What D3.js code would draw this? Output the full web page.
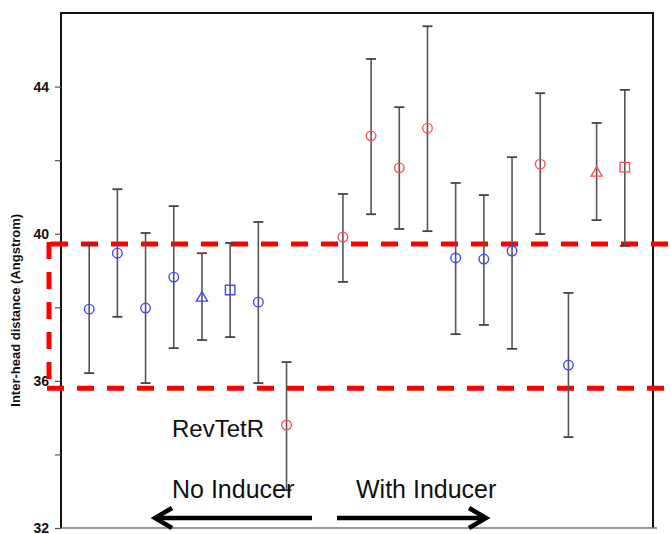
<!DOCTYPE html>
<html>
<head>
<meta charset="utf-8">
<script src="https://cdn.jsdelivr.net/npm/d3@7"></script>
<style>
  html, body { margin: 0; padding: 0; background: #fff; }
  svg { display: block; font-family: "Liberation Sans", Arial, sans-serif; }
</style>
</head>
<body>
<div id="chart"></div>
<script>
// slot of each measurement along x (slot 9 is left empty)
const positions = [1, 2, 3, 4, 5, 6, 7, 8, 10, 11, 12, 13, 14, 15, 16, 17, 18, 19, 20];
const means = [37.95, 39.47, 37.98, 38.82, 38.28, 38.47, 38.14, 34.80, 39.91, 42.66, 41.79, 42.87, 39.34, 39.31, 39.53, 41.89, 36.43, 41.68, 41.81];
const upper = [39.69, 41.21, 40.02, 40.75, 39.47, 39.75, 40.32, 36.51, 41.08, 44.75, 43.44, 45.64, 41.38, 41.05, 42.08, 43.82, 38.39, 43.01, 43.91];
const lower = [36.21, 37.74, 35.94, 36.89, 37.11, 37.19, 35.94, 33.03, 38.69, 40.53, 40.13, 40.07, 37.27, 37.52, 36.87, 39.99, 34.47, 40.37, 39.67];
const groups = ['b', 'b', 'b', 'b', 'b', 'b', 'b', 'r', 'r', 'r', 'r', 'r', 'b', 'b', 'b', 'r', 'b', 'r', 'r'];
const shapes = ['c', 'c', 'c', 'c', 't', 's', 'c', 'c', 'c', 'c', 'c', 'c', 'c', 'c', 'c', 'c', 'c', 't', 's'];
const bandLimits = [35.8, 39.72];
const tickValues = [32, 34, 36, 38, 40, 42, 44];
const tickLabels = ['32', '', '36', '', '40', '', '44'];

const width = 671, height = 534;
const plot = { left: 61, right: 653, top: 13, bottom: 528 };

const svg = d3.select('#chart').append('svg')
  .attr('width', width)
  .attr('height', height);

const x = d3.scaleLinear().domain([0, 21]).range([plot.left, plot.right]);
const y = d3.scaleLinear().domain([32, 46]).range([plot.bottom, plot.top]);

const colorOf = { b: '#4646ff', r: '#ff5050' };

const data = positions.map((p, i) => ({
  pos: p, mean: means[i], hi: upper[i], lo: lower[i], group: groups[i], shape: shapes[i]
}));

// frame: black top/left/right, grey bottom
svg.append('path')
  .attr('d', `M${plot.left},${plot.bottom} V${plot.top} H${plot.right} V${plot.bottom}`)
  .attr('fill', 'none')
  .attr('stroke', '#111')
  .attr('stroke-width', 2);
svg.append('line')
  .attr('x1', plot.left).attr('x2', plot.right + 4)
  .attr('y1', plot.bottom).attr('y2', plot.bottom)
  .attr('stroke', '#777')
  .attr('stroke-width', 1.5);

// y axis
const yAxis = d3.axisLeft(y)
  .tickValues(tickValues)
  .tickSize(6)
  .tickPadding(6)
  .tickFormat((d, i) => tickLabels[i]);

const gy = svg.append('g')
  .attr('transform', `translate(${plot.left},0)`)
  .call(yAxis);
gy.select('.domain').remove();
gy.selectAll('.tick line').attr('stroke', '#555').attr('stroke-width', 1.2);
gy.selectAll('.tick text')
  .attr('fill', '#111')
  .attr('font-size', 14)
  .attr('font-weight', 'bold')
  .attr('font-family', '"Liberation Sans", Arial, sans-serif');

svg.append('text')
  .attr('transform', `translate(20,${(y(36) + y(40)) / 2 + 3}) rotate(-90)`)
  .attr('text-anchor', 'middle')
  .attr('font-size', 13)
  .attr('font-weight', 'bold')
  .attr('fill', '#111')
  .text('Inter-head distance (Angstrom)');

// red dashed band
const dashStyle = sel => sel
  .attr('stroke', '#ff0000')
  .attr('stroke-width', 5)
  .attr('stroke-dasharray', '17,13')
  .attr('fill', 'none');

svg.append('line')
  .attr('x1', 51).attr('x2', width)
  .attr('y1', y(bandLimits[1])).attr('y2', y(bandLimits[1]))
  .call(dashStyle);
svg.append('line')
  .attr('x1', 49).attr('x2', 49)
  .attr('y1', y(bandLimits[1]) - 2).attr('y2', y(bandLimits[0]) + 2)
  .call(dashStyle);
svg.append('line')
  .attr('x1', 47).attr('x2', width)
  .attr('y1', y(bandLimits[0])).attr('y2', y(bandLimits[0]))
  .call(dashStyle);

// error bars
const bars = svg.append('g').attr('class', 'errbars')
  .selectAll('g')
  .data(data)
  .enter().append('g');

bars.append('line')
  .attr('x1', d => x(d.pos)).attr('x2', d => x(d.pos))
  .attr('y1', d => y(d.hi)).attr('y2', d => y(d.lo))
  .attr('stroke', '#555').attr('stroke-width', 1.6);

['hi', 'lo'].forEach(k => {
  bars.append('line')
    .attr('x1', d => x(d.pos) - 5).attr('x2', d => x(d.pos) + 5)
    .attr('y1', d => y(d[k])).attr('y2', d => y(d[k]))
    .attr('stroke', '#444').attr('stroke-width', 1.8);
});

// markers
const symbolType = { c: d3.symbolCircle, t: d3.symbolTriangle, s: d3.symbolSquare };
const symbolSize = { c: 72, t: 52, s: 90 };

svg.append('g').attr('class', 'points')
  .selectAll('path')
  .data(data)
  .enter().append('path')
  .attr('transform', d => `translate(${x(d.pos)},${y(d.mean) + (d.shape === 't' ? 1 : 0)})`)
  .attr('d', d => d3.symbol().type(symbolType[d.shape]).size(symbolSize[d.shape])())
  .attr('fill', 'none')
  .attr('stroke', d => colorOf[d.group])
  .attr('stroke-width', 1.4);

// annotations
svg.append('text')
  .attr('x', 172).attr('y', 437)
  .attr('font-size', 24)
  .attr('fill', '#111')
  .text('RevTetR');

svg.append('text')
  .attr('x', 172).attr('y', 498)
  .attr('font-size', 25)
  .attr('fill', '#111')
  .text('No Inducer');

svg.append('text')
  .attr('x', 356).attr('y', 498)
  .attr('font-size', 25)
  .attr('fill', '#111')
  .text('With Inducer');

const arrowY = 518;
const arrow = svg.append('g')
  .attr('stroke', '#000')
  .attr('stroke-width', 4.5)
  .attr('fill', 'none')
  .attr('stroke-linecap', 'butt')
  .attr('stroke-linejoin', 'miter');

arrow.append('line').attr('x1', 155).attr('x2', 312).attr('y1', arrowY).attr('y2', arrowY);
arrow.append('path').attr('d', `M172,${arrowY - 10} L155,${arrowY} L172,${arrowY + 10}`);
arrow.append('line').attr('x1', 337).attr('x2', 486).attr('y1', arrowY).attr('y2', arrowY);
arrow.append('path').attr('d', `M469,${arrowY - 10} L486,${arrowY} L469,${arrowY + 10}`);
</script>
</body>
</html>
